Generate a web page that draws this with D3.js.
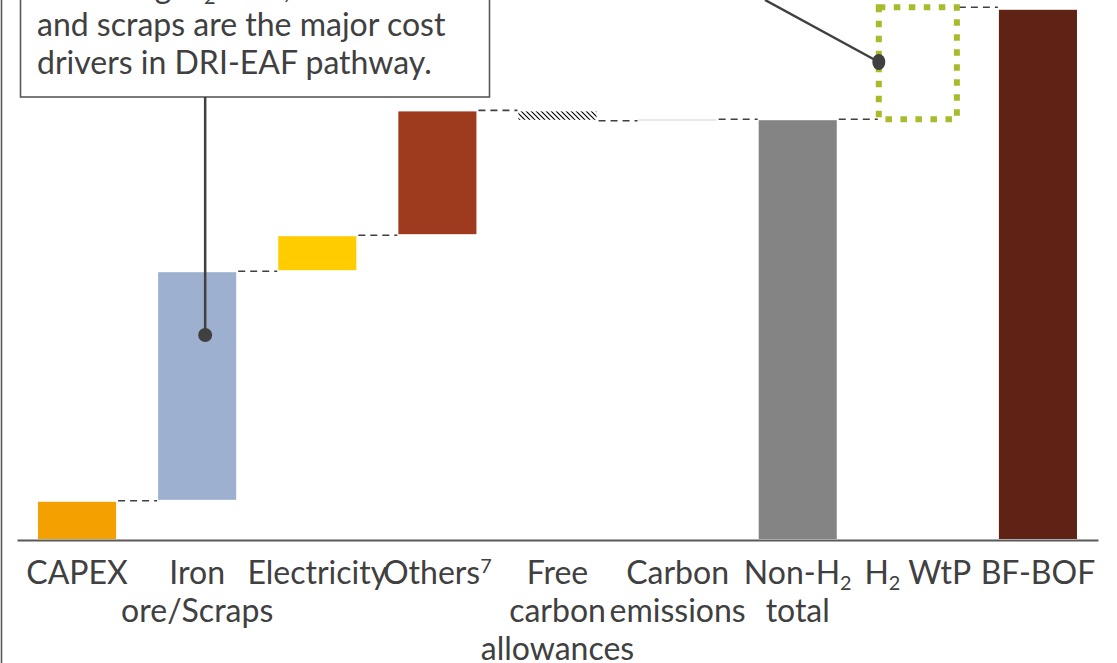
<!DOCTYPE html>
<html>
<head>
<meta charset="utf-8">
<script src="https://cdn.jsdelivr.net/npm/d3@7"></script>
<style>
  html, body { margin: 0; padding: 0; background: #fff; }
  svg { display: block; font-family: Lato, "Noto Sans", sans-serif; }
</style>
</head>
<body>
<svg id="chart" width="1117" height="663"></svg>
<script>
// Cost build-up of the DRI-EAF pathway compared with BF-BOF (USD per tonne of steel)
const categories = ["CAPEX", "Iron ore/Scraps", "Electricity", "Others", "Free carbon allowances",
                    "Carbon emissions", "Non-H2 total", "H2 WtP", "BF-BOF"];
// "delta" steps float on the running sum, "total" bars start from zero
const kinds  = ["delta", "delta", "delta", "delta", "delta", "delta", "total", "delta", "total"];
const values = [49, 287, 45, 156, -13, 2, 526, 140, 664];
const colors = ["#F4A000", "#9DB0CF", "#FFCC00", "#9E3B1E", "hatch", "#E4E4E4", "#848484", "outline", "#5E2314"];
// Tick labels: _{x} is a subscript, ^{x} a superscript
const tickLabels = [
  ["CAPEX"],
  ["Iron", "ore/Scraps"],
  ["Electricity"],
  ["Others^{7}"],
  ["Free", "carbon", "allowances"],
  ["Carbon", "emissions"],
  ["Non-H_{2}", "total"],
  ["H_{2} WtP"],
  ["BF-BOF"]
];
const noteLines = ["Excluding H_{2} WtP, iron ore", "and scraps are the major cost", "drivers in DRI-EAF pathway."];

const svg = d3.select("#chart");
const ink = "#404040";
const baseY = 540;
const fontSize = 32;

const x = d3.scaleBand().domain(categories).range([17, 1098]).paddingInner(0.35).paddingOuter(0.175);
const y = d3.scaleLinear().domain([0, 700]).range([baseY, baseY - 560]);

// running sums
let run = 0;
const bars = categories.map((c, i) => {
  let y0, y1;
  if (kinds[i] === "total") { y0 = 0; y1 = values[i]; run = values[i]; }
  else { y0 = run; y1 = run + values[i]; run = y1; }
  return { cat: c, y0, y1, end: y1, color: colors[i] };
});

const defs = svg.append("defs");
const pat = defs.append("pattern").attr("id", "hatch").attr("patternUnits", "userSpaceOnUse")
  .attr("width", 5).attr("height", 5);
pat.append("rect").attr("width", 5).attr("height", 5).attr("fill", "#fff");
pat.append("path").attr("d", "M-1,-1 L6,6 M-1,4 L1,6 M4,-1 L6,1")
  .attr("stroke", "#000").attr("stroke-width", 1.1);

// rich text helper for sub/superscripts
function addRich(textSel, str, size) {
  const parts = str.split(/([_^]\{[^}]*\})/).filter(s => s.length);
  parts.forEach(p => {
    const m = p.match(/^([_^])\{([^}]*)\}$/);
    if (m) {
      textSel.append("tspan").attr("font-size", size * 0.62)
        .attr("baseline-shift", m[1] === "_" ? "-32%" : "55%").text(m[2]);
    } else {
      textSel.append("tspan").attr("font-size", size).text(p);
    }
  });
}

// connectors between consecutive bars
const conn = svg.append("g");
bars.forEach((b, i) => {
  if (i === bars.length - 1) return;
  const nx = x(categories[i + 1]);
  conn.append("line")
    .attr("x1", x(b.cat) + x.bandwidth() + 2).attr("x2", nx - 1)
    .attr("y1", y(b.end)).attr("y2", y(b.end))
    .attr("stroke", ink).attr("stroke-width", 1.6).attr("stroke-dasharray", "7,5");
});

// bars
const g = svg.append("g");
bars.forEach((b, i) => {
  const top = y(Math.max(b.y0, b.y1)), bot = y(Math.min(b.y0, b.y1));
  if (b.color === "outline") {
    g.append("rect")
      .attr("x", x(b.cat)).attr("y", top).attr("width", x.bandwidth()).attr("height", bot - top)
      .attr("fill", "none").attr("stroke", "#A9BA2A").attr("stroke-width", 6)
      .attr("stroke-dasharray", "6.5,8.5");
  } else {
    const inset = b.color === "#E4E4E4" ? 0 : 1;
    g.append("rect")
      .attr("x", x(b.cat)).attr("y", top + inset).attr("width", x.bandwidth())
      .attr("height", Math.max(1.5, bot - top - 2 * inset))
      .attr("fill", b.color === "hatch" ? "url(#hatch)" : b.color);
  }
});

// category axis
const axis = svg.append("g").attr("transform", `translate(0,${baseY})`)
  .call(d3.axisBottom(x).tickSize(0).tickSizeOuter(0));
axis.select(".domain").attr("stroke", "#595959").attr("stroke-width", 2);
axis.selectAll(".tick text").each(function (d) {
  const t = d3.select(this);
  const lines = tickLabels[categories.indexOf(d)];
  t.text(null).attr("dy", null).attr("y", 0).attr("fill", ink)
    .attr("font-family", "Lato, sans-serif").attr("font-size", fontSize).attr("text-anchor", "middle");
  lines.forEach((ln, k) => {
    const sub = t.append("tspan").attr("x", 0).attr("y", 44 + k * 38);
    addRich(sub, ln, fontSize);
  });
});

// left frame
svg.append("line").attr("x1", 1.5).attr("x2", 1.5).attr("y1", 0).attr("y2", 663)
  .attr("stroke", "#595959").attr("stroke-width", 1.6);

// callout box
const note = svg.append("g");
note.append("rect").attr("x", 20.5).attr("y", -60).attr("width", 469).attr("height", 157)
  .attr("fill", "#fff").attr("stroke", "#595959").attr("stroke-width", 1.6);
noteLines.forEach((ln, k) => {
  const t = note.append("text").attr("x", 37).attr("y", -2 + k * 38)
    .attr("fill", ink).attr("font-size", fontSize);
  addRich(t, ln, fontSize);
});
const leadX = x("Iron ore/Scraps") + x.bandwidth() / 2 + 8;
note.append("line").attr("x1", leadX).attr("x2", leadX).attr("y1", 97).attr("y2", 335)
  .attr("stroke", ink).attr("stroke-width", 2.5);
note.append("circle").attr("cx", leadX).attr("cy", 335).attr("r", 7).attr("fill", ink);

// pointer to the H2 WtP step
const h2x = x("H2 WtP");
svg.append("line").attr("x1", 765).attr("y1", 0).attr("x2", h2x).attr("y2", 62)
  .attr("stroke", ink).attr("stroke-width", 2.5);
svg.append("ellipse").attr("cx", h2x).attr("cy", 62).attr("rx", 6.5).attr("ry", 8).attr("fill", ink);
</script>
</body>
</html>
